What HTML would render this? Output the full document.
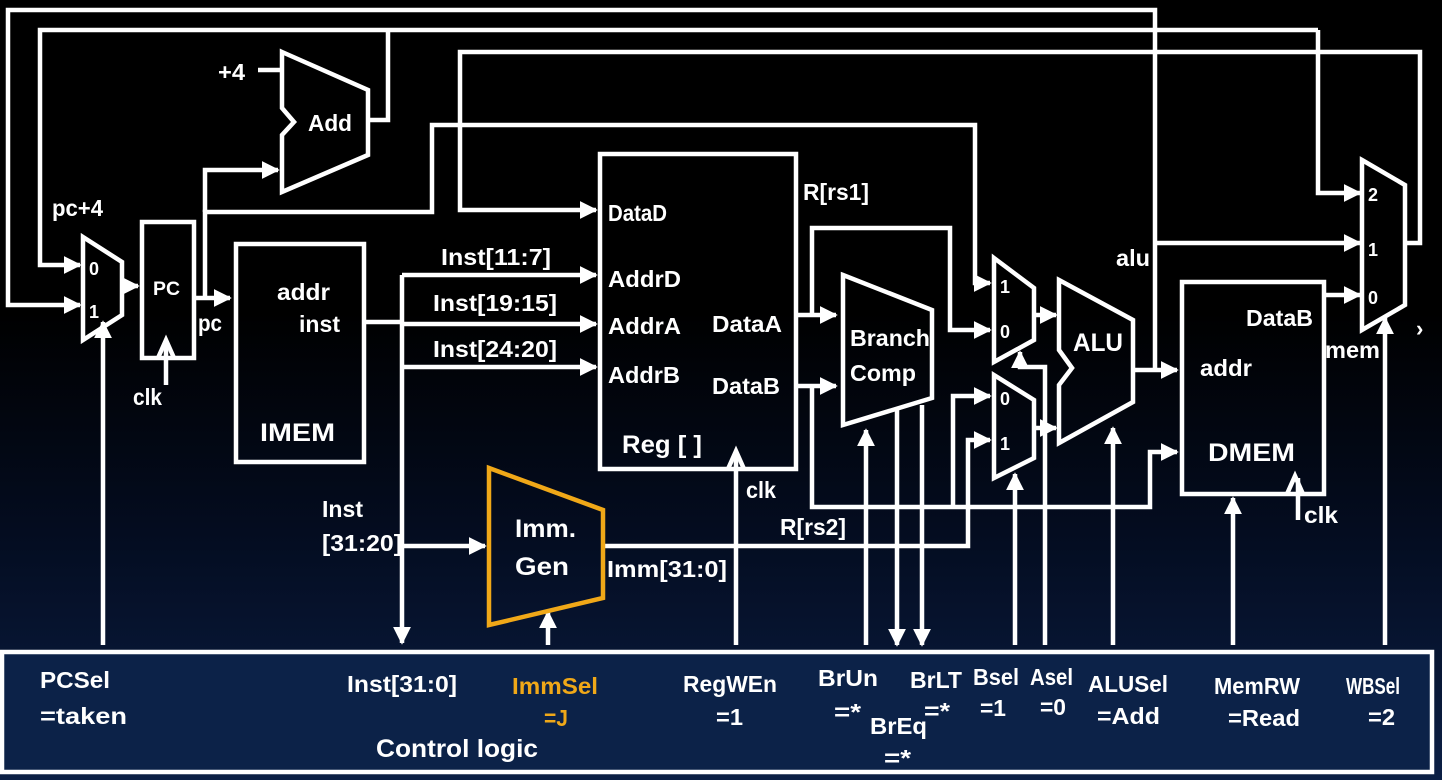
<!DOCTYPE html>
<html><head><meta charset="utf-8"><style>
html,body{margin:0;padding:0;background:#000;}
svg{display:block;}
text{font-family:"Liberation Sans",sans-serif;font-weight:bold;fill:#fff;}
</style></head><body>
<svg width="1442" height="780" viewBox="0 0 1442 780" xmlns="http://www.w3.org/2000/svg">
<defs>
<linearGradient id="bg" x1="0" y1="0" x2="0" y2="1">
<stop offset="0" stop-color="#000"/><stop offset="0.4" stop-color="#000"/>
<stop offset="0.7" stop-color="#040d22"/><stop offset="1" stop-color="#0b1f45"/>
</linearGradient>
<marker id="a" viewBox="0 0 10 10" refX="9" refY="5" markerWidth="4" markerHeight="4" orient="auto" markerUnits="strokeWidth">
<path d="M0,0 L10,5 L0,10 z" fill="#fff"/></marker>
</defs>
<rect width="1442" height="780" fill="url(#bg)"/>
<g fill="none" stroke="#fff" stroke-width="4.5" stroke-linejoin="miter">
<polyline points="1155,370 1155,10 8,10 8,305 80,305" marker-end="url(#a)"/>
<polyline points="368,120 388,120 388,30"/>
<polyline points="1318,30 40,30 40,265 80,265" marker-end="url(#a)"/>
<polyline points="1318,30 1318,193 1360,193" marker-end="url(#a)"/>
<polyline points="1405,243 1420,243 1420,52 460,52 460,210 596,210" marker-end="url(#a)"/>
<polyline points="205,298 205,212 432,212 432,125 975,125 975,283 990,283" marker-end="url(#a)"/>
<polyline points="205,212 205,170 278,170" marker-end="url(#a)"/>
<polyline points="258,70 282,70"/>
<polygon points="83,237 122,262 122,315 83,340"/>
<polyline points="122,286 138,286" marker-end="url(#a)"/>
<rect x="142" y="222" width="52" height="136"/>
<polyline points="158,358 166,340 174,358"/>
<polyline points="166,385 166,342"/>
<polyline points="194,298 230,298" marker-end="url(#a)"/>
<polygon points="282,52 368,90 368,155 282,192 282,135 294,122 282,108"/>
<rect x="236" y="244" width="128" height="218"/>
<polyline points="364,322 402,322"/>
<polyline points="402,275 402,643" marker-end="url(#a)"/>
<polyline points="402,275 596,275" marker-end="url(#a)"/>
<polyline points="402,324 596,324" marker-end="url(#a)"/>
<polyline points="402,367 596,367" marker-end="url(#a)"/>
<polyline points="402,546 485,546" marker-end="url(#a)"/>
<rect x="600" y="154" width="196" height="315"/>
<polyline points="728,469 736,451 744,469"/>
<polyline points="736,645 736,453"/>
<polyline points="796,315 836,315" marker-end="url(#a)"/>
<polyline points="812,315 812,228 950,228 950,330 990,330" marker-end="url(#a)"/>
<polyline points="796,386 836,386" marker-end="url(#a)"/>
<polyline points="812,386 812,507 1150,507 1150,452 1177,452" marker-end="url(#a)"/>
<polyline points="953,507 953,396 990,396" marker-end="url(#a)"/>
<polygon points="843,275 932,310 932,398 843,425"/>
<polyline points="866,645 866,430" marker-end="url(#a)"/>
<polyline points="897,410 897,645" marker-end="url(#a)"/>
<polyline points="922,405 922,645" marker-end="url(#a)"/>
<polygon points="994,258 1034,288 1034,340 994,362"/>
<polyline points="1034,315 1056,315" marker-end="url(#a)"/>
<polyline points="1045,645 1045,367 1020,367 1020,352" marker-end="url(#a)"/>
<polygon points="994,375 1034,400 1034,458 994,478"/>
<polyline points="1034,428 1056,428" marker-end="url(#a)"/>
<polyline points="1015,645 1015,474" marker-end="url(#a)"/>
<polyline points="603,546 968,546 968,440 990,440" marker-end="url(#a)"/>
<polygon points="1059,280 1133,320 1133,402 1059,443 1059,385 1072,368 1059,350"/>
<polyline points="1113,645 1113,428" marker-end="url(#a)"/>
<polyline points="1133,370 1177,370" marker-end="url(#a)"/>
<polyline points="1155,243 1360,243" marker-end="url(#a)"/>
<rect x="1182" y="282" width="142" height="212"/>
<polyline points="1287,494 1295,476 1303,494"/>
<polyline points="1298,520 1298,478"/>
<polyline points="1233,645 1233,498" marker-end="url(#a)"/>
<polyline points="1324,295 1360,295" marker-end="url(#a)"/>
<polygon points="1362,160 1405,185 1405,305 1362,330"/>
<polyline points="1385,645 1385,318" marker-end="url(#a)"/>
<polyline points="103,645 103,322" marker-end="url(#a)"/>
<polyline points="548,645 548,612" marker-end="url(#a)"/>
<rect x="2" y="652" width="1430" height="120" fill="#0c2248"/>
</g>
<polygon points="489,468 603,510 603,598 489,625" fill="none" stroke="#f0a818" stroke-width="4.5"/>
<g font-size="23">
<text lengthAdjust="spacingAndGlyphs" x="218" y="80" textLength="27">+4</text>
<text lengthAdjust="spacingAndGlyphs" x="308" y="131" textLength="44">Add</text>
<text lengthAdjust="spacingAndGlyphs" x="52" y="216" textLength="51">pc+4</text>
<text x="89" y="275" font-weight="normal" font-size="18">0</text>
<text x="89" y="318" font-weight="normal" font-size="18">1</text>
<text lengthAdjust="spacingAndGlyphs" x="153" y="295" font-size="19" textLength="27">PC</text>
<text lengthAdjust="spacingAndGlyphs" x="198" y="331" textLength="24">pc</text>
<text lengthAdjust="spacingAndGlyphs" x="133" y="405" textLength="29">clk</text>
<text lengthAdjust="spacingAndGlyphs" x="277" y="300" textLength="53">addr</text>
<text lengthAdjust="spacingAndGlyphs" x="299" y="332" textLength="41">inst</text>
<text lengthAdjust="spacingAndGlyphs" x="260" y="441" font-size="25" textLength="75">IMEM</text>
<text lengthAdjust="spacingAndGlyphs" x="441" y="265" textLength="110">Inst[11:7]</text>
<text lengthAdjust="spacingAndGlyphs" x="433" y="311" textLength="124">Inst[19:15]</text>
<text lengthAdjust="spacingAndGlyphs" x="433" y="357" textLength="124">Inst[24:20]</text>
<text lengthAdjust="spacingAndGlyphs" x="608" y="221" textLength="59">DataD</text>
<text lengthAdjust="spacingAndGlyphs" x="608" y="287" textLength="73">AddrD</text>
<text lengthAdjust="spacingAndGlyphs" x="608" y="334" textLength="73">AddrA</text>
<text lengthAdjust="spacingAndGlyphs" x="608" y="383" textLength="72">AddrB</text>
<text lengthAdjust="spacingAndGlyphs" x="712" y="332" textLength="70">DataA</text>
<text lengthAdjust="spacingAndGlyphs" x="712" y="394" textLength="68">DataB</text>
<text lengthAdjust="spacingAndGlyphs" x="622" y="453" font-size="25" textLength="80">Reg [ ]</text>
<text lengthAdjust="spacingAndGlyphs" x="746" y="498" textLength="30">clk</text>
<text lengthAdjust="spacingAndGlyphs" x="803" y="200" textLength="66">R[rs1]</text>
<text lengthAdjust="spacingAndGlyphs" x="850" y="346" textLength="80">Branch</text>
<text lengthAdjust="spacingAndGlyphs" x="850" y="381" textLength="66">Comp</text>
<text x="1000" y="293" font-weight="normal" font-size="18">1</text>
<text x="1000" y="338" font-weight="normal" font-size="18">0</text>
<text x="1000" y="405" font-weight="normal" font-size="18">0</text>
<text x="1000" y="450" font-weight="normal" font-size="18">1</text>
<text lengthAdjust="spacingAndGlyphs" x="1073" y="351" font-size="25" textLength="50">ALU</text>
<text lengthAdjust="spacingAndGlyphs" x="1116" y="266" textLength="34">alu</text>
<text lengthAdjust="spacingAndGlyphs" x="1246" y="326" textLength="67">DataB</text>
<text lengthAdjust="spacingAndGlyphs" x="1200" y="376" textLength="52">addr</text>
<text lengthAdjust="spacingAndGlyphs" x="1208" y="461" font-size="25" textLength="87">DMEM</text>
<text lengthAdjust="spacingAndGlyphs" x="1304" y="523" textLength="34">clk</text>
<text lengthAdjust="spacingAndGlyphs" x="1325" y="358" textLength="55">mem</text>
<text x="1368" y="201" font-weight="normal" font-size="18">2</text>
<text x="1368" y="256" font-weight="normal" font-size="18">1</text>
<text x="1368" y="304" font-weight="normal" font-size="18">0</text>
<text x="1416" y="336" fill="#ccc" font-weight="normal" font-size="22">›</text>
<text lengthAdjust="spacingAndGlyphs" x="322" y="517" textLength="41">Inst</text>
<text lengthAdjust="spacingAndGlyphs" x="322" y="551" textLength="80">[31:20]</text>
<text lengthAdjust="spacingAndGlyphs" x="515" y="537" font-size="25" textLength="61">Imm.</text>
<text lengthAdjust="spacingAndGlyphs" x="515" y="575" font-size="25" textLength="54">Gen</text>
<text lengthAdjust="spacingAndGlyphs" x="607" y="577" textLength="120">Imm[31:0]</text>
<text lengthAdjust="spacingAndGlyphs" x="780" y="535" textLength="66">R[rs2]</text>
<text lengthAdjust="spacingAndGlyphs" x="40" y="688" textLength="70">PCSel</text>
<text lengthAdjust="spacingAndGlyphs" x="40" y="724" textLength="87">=taken</text>
<text lengthAdjust="spacingAndGlyphs" x="347" y="692" textLength="110">Inst[31:0]</text>
<text lengthAdjust="spacingAndGlyphs" x="512" y="694" style="fill:#f0a818" textLength="86">ImmSel</text>
<text lengthAdjust="spacingAndGlyphs" x="544" y="726" style="fill:#f0a818" textLength="24">=J</text>
<text lengthAdjust="spacingAndGlyphs" x="683" y="692" textLength="94">RegWEn</text>
<text lengthAdjust="spacingAndGlyphs" x="716" y="725" textLength="27">=1</text>
<text lengthAdjust="spacingAndGlyphs" x="818" y="686" textLength="60">BrUn</text>
<text lengthAdjust="spacingAndGlyphs" x="834" y="720" textLength="27">=*</text>
<text lengthAdjust="spacingAndGlyphs" x="910" y="688" textLength="52">BrLT</text>
<text lengthAdjust="spacingAndGlyphs" x="924" y="719" textLength="26">=*</text>
<text lengthAdjust="spacingAndGlyphs" x="870" y="734" textLength="57">BrEq</text>
<text lengthAdjust="spacingAndGlyphs" x="884" y="766" textLength="27">=*</text>
<text lengthAdjust="spacingAndGlyphs" x="973" y="685" textLength="46">Bsel</text>
<text lengthAdjust="spacingAndGlyphs" x="980" y="716" textLength="26">=1</text>
<text lengthAdjust="spacingAndGlyphs" x="1030" y="685" textLength="43">Asel</text>
<text lengthAdjust="spacingAndGlyphs" x="1040" y="715" textLength="26">=0</text>
<text lengthAdjust="spacingAndGlyphs" x="1088" y="692" textLength="80">ALUSel</text>
<text lengthAdjust="spacingAndGlyphs" x="1097" y="724" textLength="63">=Add</text>
<text lengthAdjust="spacingAndGlyphs" x="1214" y="694" textLength="86">MemRW</text>
<text lengthAdjust="spacingAndGlyphs" x="1228" y="726" textLength="72">=Read</text>
<text lengthAdjust="spacingAndGlyphs" x="1346" y="694" textLength="54">WBSel</text>
<text lengthAdjust="spacingAndGlyphs" x="1368" y="725" textLength="27">=2</text>
<text lengthAdjust="spacingAndGlyphs" x="376" y="757" font-size="25" textLength="162">Control logic</text>
</g>
</svg>
</body></html>
